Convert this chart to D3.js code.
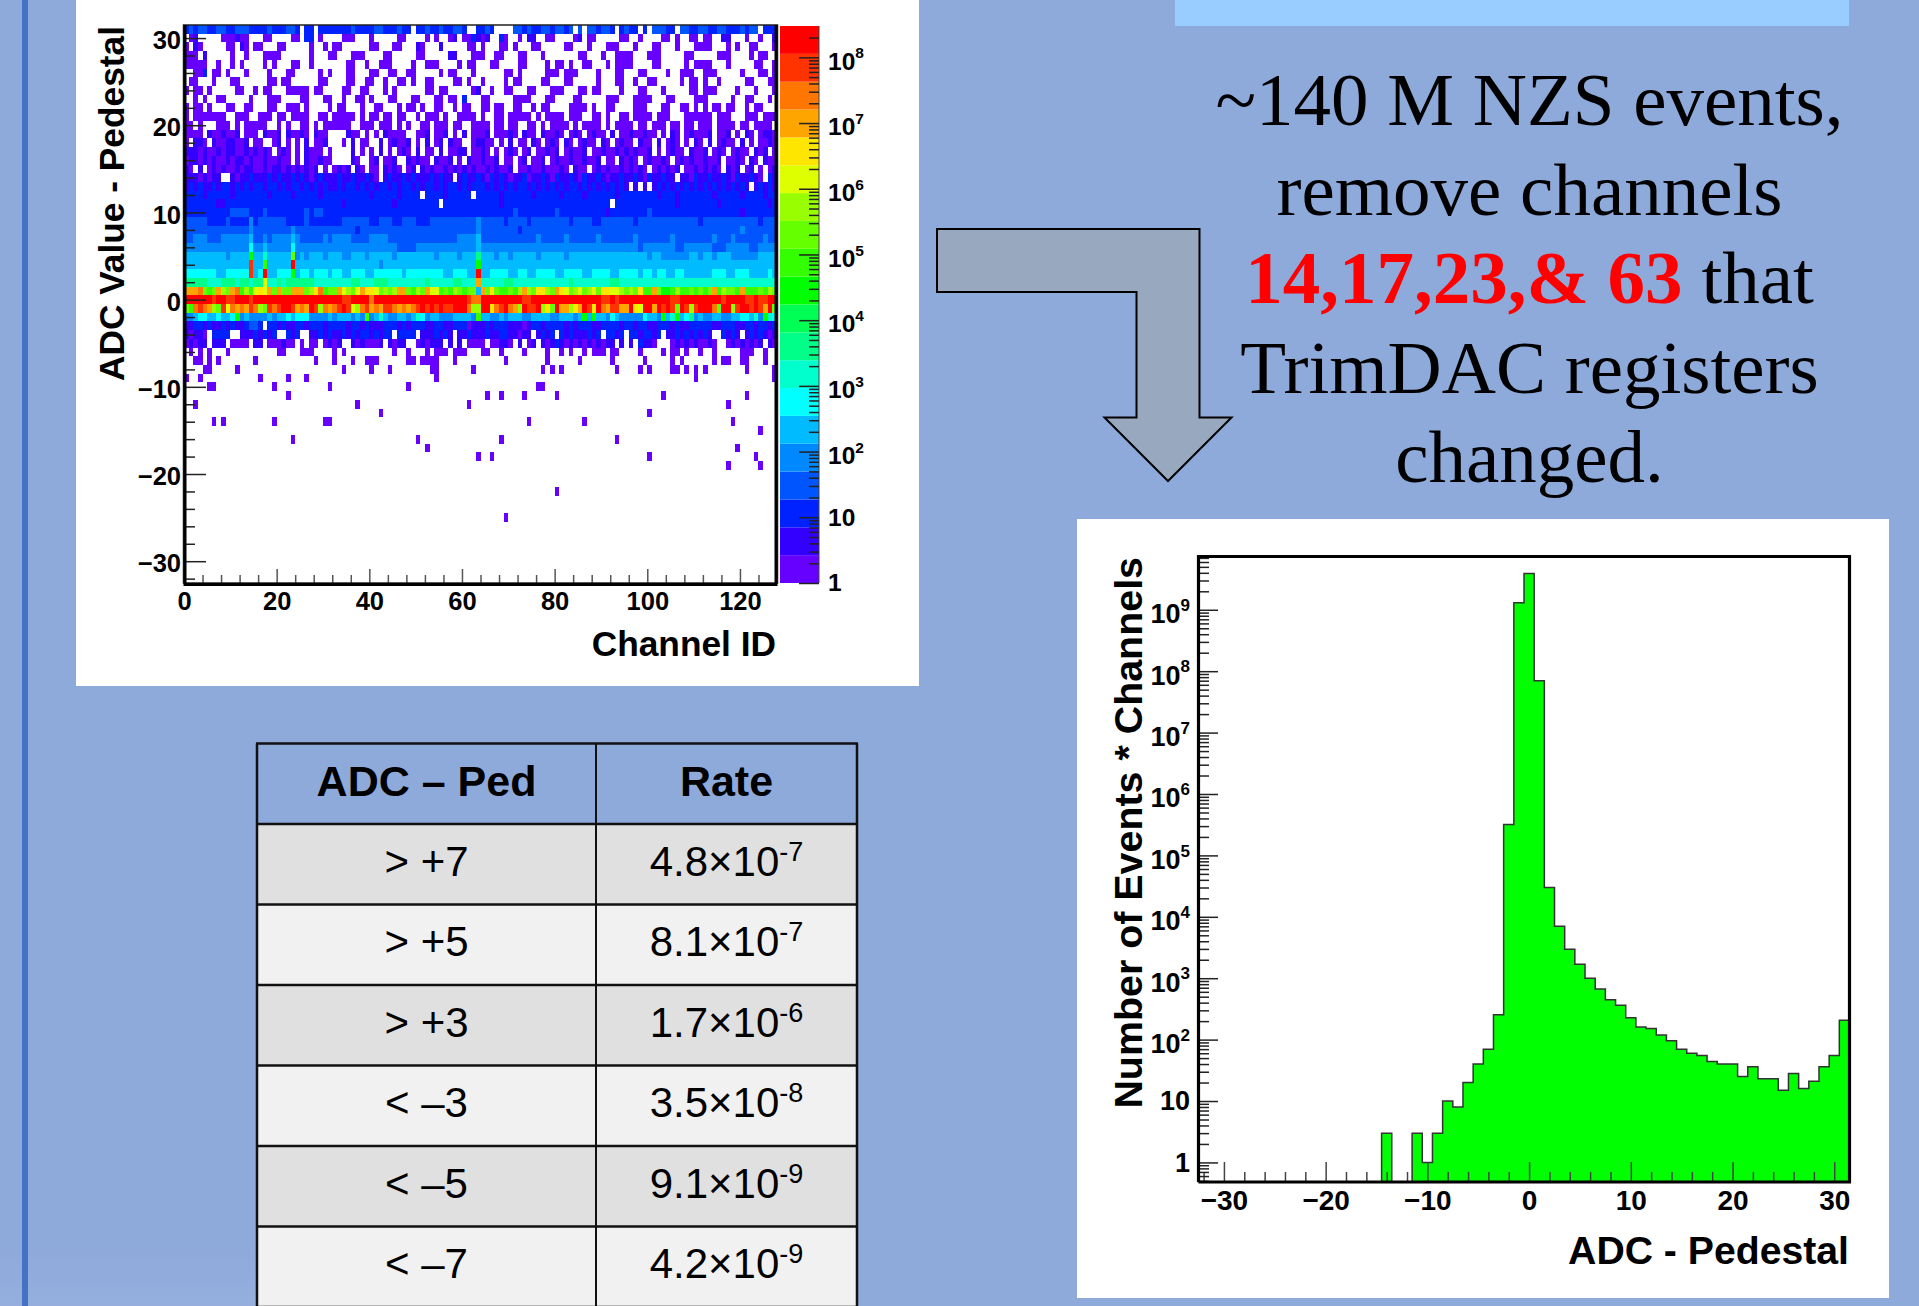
<!DOCTYPE html>
<html>
<head>
<meta charset="utf-8">
<script src="https://cdn.jsdelivr.net/npm/d3@7"></script>
<style>
  html, body { margin: 0; padding: 0; background: #8eaadb; }
  svg { display: block; }
  text { font-family: "Liberation Sans", Arial, sans-serif; }
</style>
</head>
<body>
<div id="chart"></div>
<script>
// Heat map: band index per cell (. = empty, 0-9 a-j = colour band), ADC 31 down to -5, channels 0-127
const heatRows = [
  "2323322332233322 223222332.22.222 2222322223322232 2.22322322332..2 232....332322332 3323.3.332332.23 22.2.33322.33223 322332223233.222",
  ".01.....000100.. .00....00.22.0.. ..000...0.....00 ....0.0..01.0021 01..20..0.11..00 ....01.00.....00 ..0....00.0..00. 00..11...0..0..1",
  "0.10.....00.10.0 0...00.....0..0. 00......00...00. ..10...1.....00. 0...00.0...00... ..00...0...000.. .0...00...0...00 00...0.0..00...0",
  "000.1.....0..0.. .0000......0...0 0...000....00... ..00.....11...00 0..00...00...0.. .....00...0..000 0...000.....00.. ...000....0.00..",
  "00000..0..0.0... .0.0...00..0.... ...00..0..000... .0..000....0.00. ..00....00....0. 00.0..00...0.000 0....00.....0.00 00...0.....00..0",
  "..002.00.0...0.. ..0...00.....0.0 ...00...00..00.. 00.....0.00...0. .....00.0.....00 0.000....0...00. ..00....0..000.. 000.....0...00.0",
  ".00...0...00.... ..00.00......00. ...00..00..0..00 .0..00....00.0.. 0....0.00....00. ..00.....0...00. .0..00.....0.00. 0..0.....00...00",
  "0.00.0.....00..0 .00...00000.00.. ..00..00...0.0.. ....00.00.....01 ..0..00...00...0 00...00.00....0. ..00...0.....00. 000....0...0...0",
  "..0.0..00.....0. ..000....00...00 ..0..00.0...00.. .00...00.00.2... 00.....0000...00 ....00.....000.. .0000...00....00 0.....0..00...0.",
  "0.00.0...00..00. ..00..000.0....0 .00...0..00...0. 00.0..00..0.00.. 00.00..00..0.00. ...0000.0..00... .000...00..00.0. 0.00.00..0.00...",
  "0.0000000..000.. 000.00.0000..00. 00000.0.00.00.00 ..0.000.0..0000. 0..00.00000.0.00 00.000..00.0..00 .0000.000...0000 00.000...000.000",
  "00.0...000.0.000 00..0.0..00.0.00 0000..000.000.0. 0..00.000.00..00 00.00.00..00.0.0 000.0.0000.0.000 0.00.000.00.00.0 00.0000.00.0000.",
  "0000.1001001.000 .1001.10010.100. ...100.0.0.10000 ..001.001.0.1.00 01.00010.100.100 10.010.0100.1.00 100100.0.10.0100 01.001.0.10.0110",
  "0.110.10011001.0 0..01.0.0.1.001. ..0.1.00..1.0100 1.0.1.01.100..01 100.0.1.00.10.01 0.10.0100.10.010 0.100.1.010.0.10 .1.0100.1.0.0010",
  "1110100101100101 010.010.0.1000.0 ....1.0.0.1.0.01 0.1.00.1.0011.00 10.0.010.01.0010 1.01001.00100101 01001.0.0100.100 1.010.0100.101.0",
  "0110101001011010 0100100.0.100100 ....10..01.001.. 10100.1001.0.100 1001.00.01.001.0 1001001001.00.10 10.010010.010100 1001.0010.10.100",
  "10.1.01010010110 0101101010101.0. 0101.10.00.1010. 01.1010010101010 0101001.00100100 010.100.01010010 1010.010101.0010 1010.101.01.0.01",
  "11101011..101121 1121211212101211 1211211210.12112 1211121211.12112 1021210112011210 2112102112101121 1210211211.11021 1211210211210.21",
  "1212112122121212 2122121221212121 1212212121221212 2121221212212122 2121212122121212 1212212121212121 .1.1.12121212121 2121212121.12121",
  "2222122222122222 2212222122222122 2222222212222212 222.2222122222.2 2222122222212222 2122221222222122 2222221222122222 2212222212222122",
  "2222222112222222 2222222222222222 2212222222222122 2222222.22222222 2222122222222222 222222222222.222 2222222222122222 2221222222222212",
  "2222222222333322 2322222222323322 2222222222222222 2222222222222222 2222222322222222 3222222222212222 2222322222222222 2222222212222222",
  "3333322223222242 3333332222322222 2233333322333223 3322233333333334 3333323333233333 3332333322333333 3233333333333332 3333333333332333",
  "3333333333333343 3333333433333333 3333323333333333 3333333333333334 3333333323333333 3333333333333333 3333333333333333 3333333343333333",
  "3344433344444453 3434444543333343 4444333344443333 3333333333344445 3333333333334333 3343333334333333 3433333334333333 3343334333333433",
  "4444444444444464 4544444644444444 4444444444444433 3344444444444445 4444444444444444 4444444444444444 4434444444334444 4433344444334444",
  "55555555545555a5 5755555c45455545 5544555455555455 5555554555545558 5554554555554555 5545555555555555 5555455444444554 5545554444445555",
  "55555555555555i5 5b55555j55555555 5555555555455555 555555555555555a 5555555555555555 5555555555555555 5555555555555555 5555555555555555",
  "666666655666 66i5 6j55666a56656665 6655666556666665 666666665566655j 5566665566556666 5566665566665566 6656656655665555 5566655666555565",
  "8888877788878878 8e77878888887777 7777887778887777 777787777788777g 7777788777777777 7778777777778877 7777777777777777 7777777777777777",
  "ggghcbcgdcghbdbe fegcgccgggcdfhbc cgedcegffecdcdgg cbdcgeebcbdcbcc5 gcfcbbcbdgdcffdc gfecdecdecffeedc dcfbbgcaabdbbcbc bcgbdccbgbbbcbdc",
  "jjjjjjijjiijjjij jjjjjjjjjjjjjjjj jjiijjjjhjjjjjjj jjjjjjjjjjjjjihh jjjjjjjjjiijjjjj jjjjjjjjjjiijijj jjjjjjjjjiijjjjj jjjjijjjjiijiijj",
  "cbhihgdciehghgih dcihijjighgjidhg hijiedhighgiihgh ghijijijiijjjhdd jjfhijhgdjiijdfc jggdfgjifjhgiigg jfejjgjijicjidij jjhcjjdijjijigjc",
  "44566556556a4544 4454556566644445 4555454b45754455 457645544455554b 5544545554455554 455545a5a5546544 4446554a57a56845 4455445566574a76",
  "1122121121211233 2.22121122122212 2221221211122212 1222112211222011 1212221110122122 2212122211222212 2122112221211222 2211222112212212",
  "10110.2222..1112 1212..212..11212 1121212212122.22 22.1112121.11211 12112211011.1212 .212111212.2212. 2212212.11212121 21..2121.1212101",
  "01011.111.0000.1 1.000100.0.00.01 01..1010001.1011 ..010111.1.1.000 0.00110.1.01.101 2101010101011.1. 1.2110...0101010 010..01010101.10"
];
const heatAdc = d3.range(31, -6, -1);

// Sparse rows below that: [ADC, channels hit], all in the lowest colour band
const sparseRows = [
  [-6, [1, 3, 5, 9, 20, 21, 25, 26, 27, 32, 34, 45, 48, 52, 54, 55, 56, 58, 59, 60, 64, 65, 68, 73, 78, 81, 83, 86, 88, 89, 90, 92, 93, 98, 103, 105, 106, 108, 111, 114, 120, 121, 122, 125]],
  [-7, [2, 3, 5, 7, 15, 28, 32, 36, 39, 40, 41, 48, 49, 51, 52, 53, 54, 58, 69, 78, 85, 92, 99, 105, 107, 114, 116, 117, 120, 121, 125]],
  [-8, [4, 5, 11, 34, 40, 44, 53, 54, 62, 77, 79, 81, 93, 98, 100, 105, 106, 108, 110, 112, 121, 127]],
  [-9, [0, 3, 16, 22, 26, 54, 110, 127]],
  [-10, [5, 6, 19, 31, 48, 76, 77]],
  [-11, [22, 65, 68, 73, 80, 103, 121]],
  [-12, [2, 37, 61, 117]],
  [-13, [42, 100]],
  [-14, [6, 8, 19, 30, 31, 74, 86, 118]],
  [-15, [124]],
  [-16, [23, 50, 68, 93]],
  [-17, [52, 119]],
  [-18, [63, 66, 100, 123]],
  [-19, [117, 124]],
  [-22, [80]],
  [-25, [69]]
];

const bandColors = ["#6600ff", "#3300ff", "#0022ff", "#0055ff", "#0088ff", "#00bbff", "#00ffff", "#00ffcc", "#00ff88", "#00ff55",
                    "#00ff00", "#33ff00", "#66ff00", "#99ff00", "#ddff00", "#ffe600", "#ffa500", "#ff7700", "#ff3300", "#ff0000"];
const bandKeys = "0123456789abcdefghij";

// Histogram: counts for bins -32 .. 31
const histBins = d3.range(-32, 32);
const histCounts = [
  0, 0, 0, 0, 0, 0, 0, 0, 0, 0, 0, 0, 0, 0, 0, 0, 0, 0,
  3, 0, 0, 3, 1, 3, 10, 8, 20, 40, 70, 255, 3.2e5, 1.3e9,
  3.9e9, 7e7, 3e4, 7e3, 2950, 1690, 1000, 670, 447, 363, 227, 160, 152, 119, 96, 70,
  60, 55, 44, 40, 40, 25, 36, 23, 23, 15, 28, 16, 21, 36, 55, 206
];

// Table
const tableHeader = ["ADC – Ped", "Rate"];
const tableLabels = ["> +7", "> +5", "> +3", "< –3", "< –5", "< –7"];
const tableMantissas = ["4.8", "8.1", "1.7", "3.5", "9.1", "4.2"];
const tableExponents = ["-7", "-7", "-6", "-8", "-9", "-9"];

// Tick values
const heatXMajor = d3.range(0, 121, 20);
const heatXMinor = d3.range(0, 128, 4).filter(d => d % 20 !== 0);
const heatYMajor = d3.range(-30, 31, 10);
const heatYMinor = d3.range(-32, 32, 2).filter(d => d % 10 !== 0);
const barDecades = [0, 1, 2, 3, 4, 5, 6, 7, 8];
const histDecades = [0, 1, 2, 3, 4, 5, 6, 7, 8, 9];
const histXMajor = d3.range(-30, 31, 10);
const histXMinor = d3.range(-32, 32, 2).filter(d => d % 10 !== 0);
const minorFactors = [2, 3, 4, 5, 6, 7, 8, 9];

const textLines = [
  { y: 125, parts: [["~140 M NZS events,", false]] },
  { y: 215, parts: [["remove channels", false]] },
  { y: 303, parts: [["14,17,23,& 63", true], [" that", false]] },
  { y: 393, parts: [["TrimDAC registers", false]] },
  { y: 482, parts: [["changed.", false]] }
];

const svg = d3.select("#chart").append("svg")
    .attr("width", 1919)
    .attr("height", 1306);

const bg = "#8eaadb";
svg.append("rect").attr("width", 1919).attr("height", 1306).attr("fill", bg);
const defs = svg.append("defs");
const grad = defs.append("linearGradient").attr("id", "fade").attr("x1", 0).attr("x2", 0).attr("y1", 0).attr("y2", 1);
grad.append("stop").attr("offset", "0%").attr("stop-color", bg);
grad.append("stop").attr("offset", "100%").attr("stop-color", "#95aede");
svg.append("rect").attr("x", 0).attr("y", 1250).attr("width", 257).attr("height", 56).attr("fill", "url(#fade)");
svg.append("rect").attr("x", 22).attr("y", 0).attr("width", 6).attr("height", 1306).attr("fill", "#4472c4");

// white panels and the blue box at the top
svg.append("rect").attr("x", 76).attr("y", 0).attr("width", 843).attr("height", 686).attr("fill", "#fff");
svg.append("rect").attr("x", 1077).attr("y", 519).attr("width", 812).attr("height", 779).attr("fill", "#fff");
svg.append("rect").attr("x", 1175).attr("y", 0).attr("width", 674).attr("height", 26).attr("fill", "#99ccff");

// put a superscript on a tick label
function powerLabel(sel, fontSize) {
    sel.each(function (d) {
        const t = d3.select(this);
        t.text(null);
        if (d === 0) { t.text("1").attr("dy", "0.32em"); return; }
        if (d === 1) { t.text("10").attr("dy", "0.32em"); return; }
        t.attr("dy", "0.48em");
        t.append("tspan").text("10");
        t.append("tspan").attr("font-size", fontSize).attr("dy", "-0.72em").text(d);
    });
}

function styleAxis(g, size) {
    g.select(".domain").remove();
    g.selectAll("line").attr("stroke", "#222").attr("stroke-width", 1.5);
    g.selectAll("text").attr("fill", "#000").attr("font-size", size).attr("font-weight", "bold").attr("font-family", "Liberation Sans");
}

//// HEAT MAP
const heatX = d3.scaleLinear().domain([0, 128]).range([184, 777]);
const heatY = d3.scaleLinear().domain([-32.5, 31.5]).range([583, 25]);

const cells = [];
heatRows.forEach((row, r) => {
    const chars = row.replace(/ /g, "");
    for (let c = 0; c < 128; c++) {
        const band = bandKeys.indexOf(chars[c]);
        if (band >= 0) cells.push({ channel: c, adc: heatAdc[r], band: band });
    }
});
sparseRows.forEach(s => s[1].forEach(c => cells.push({ channel: c, adc: s[0], band: 0 })));

svg.append("g").selectAll("rect")
    .data(cells)
    .enter().append("rect")
    .attr("x", d => heatX(d.channel))
    .attr("y", d => heatY(d.adc + 0.5))
    .attr("width", d => heatX(d.channel + 1) - heatX(d.channel))
    .attr("height", d => heatY(d.adc - 0.5) - heatY(d.adc + 0.5))
    .attr("fill", d => bandColors[d.band])
    .attr("shape-rendering", "crispEdges");

svg.append("g").attr("transform", "translate(0,583)")
    .call(d3.axisBottom(heatX).tickValues(heatXMajor).tickSize(-14).tickPadding(9).tickFormat(d => d))
    .call(styleAxis, 25.5)
    .call(g => g.selectAll("line").attr("stroke", "#555"));
svg.append("g").attr("transform", "translate(0,583)")
    .call(d3.axisBottom(heatX).tickValues(heatXMinor).tickSize(-8).tickFormat(""))
    .call(styleAxis, 25.5)
    .call(g => g.selectAll("line").attr("stroke", "#555"));
svg.append("g").attr("transform", "translate(184,0)")
    .call(d3.axisLeft(heatY).tickValues(heatYMajor).tickSize(-22).tickPadding(3).tickFormat(d => d < 0 ? "\u2212" + (-d) : d))
    .call(styleAxis, 25.5)
    .call(g => g.selectAll(".tick text").attr("dy", "0.42em"));
svg.append("g").attr("transform", "translate(184,0)")
    .call(d3.axisLeft(heatY).tickValues(heatYMinor).tickSize(-11).tickFormat(""))
    .call(styleAxis, 25.5);

// frame
svg.append("path")
    .attr("d", "M183.5,25H777.5V583H183.5Z")
    .attr("fill", "none").attr("stroke", "#222").attr("stroke-width", 1.5);
svg.append("path")
    .attr("d", "M185,25V584.5H776V25")
    .attr("fill", "none").attr("stroke", "#000").attr("stroke-width", 3);

svg.append("text")
    .attr("x", 776).attr("y", 656)
    .attr("text-anchor", "end").attr("font-weight", "bold").attr("font-size", 35.3)
    .text("Channel ID");
svg.append("text")
    .attr("transform", "translate(124,26)rotate(-90)")
    .attr("text-anchor", "end").attr("font-weight", "bold").attr("font-size", 35.3)
    .text("ADC Value - Pedestal");

// colour bar
const barMax = 3e8;
const barY = d3.scaleLog().domain([1, barMax]).range([583, 26]);
const bandEdge = i => Math.pow(barMax, i / bandColors.length);
svg.append("g").selectAll("rect")
    .data(bandColors)
    .enter().append("rect")
    .attr("x", 780)
    .attr("width", 39)
    .attr("y", (d, i) => barY(bandEdge(i + 1)))
    .attr("height", (d, i) => barY(bandEdge(i)) - barY(bandEdge(i + 1)))
    .attr("fill", d => d);
svg.append("line").attr("x1", 819).attr("x2", 819).attr("y1", 26).attr("y2", 583).attr("stroke", "#444").attr("stroke-width", 1);

svg.append("g").attr("transform", "translate(819,0)")
    .call(d3.axisRight(d3.scaleLinear().domain(barY.domain().map(v => Math.log10(v))).range(barY.range()))
        .tickValues(barDecades).tickSize(-20).tickPadding(9))
    .call(styleAxis, 24.5)
    .call(g => g.selectAll(".tick text").call(powerLabel, 15.5));
const barMinor = [];
barDecades.forEach(k => minorFactors.forEach(f => { if (f * Math.pow(10, k) < barMax) barMinor.push(f * Math.pow(10, k)); }));
svg.append("g").attr("transform", "translate(819,0)")
    .call(d3.axisRight(barY).tickValues(barMinor).tickSize(-10).tickFormat(""))
    .call(styleAxis, 24.5);

//// HISTOGRAM
const histX = d3.scaleLinear().domain([-32.5, 31.5]).range([1198.5, 1849.5]);
const histYMin = 0.48;
const histY = d3.scaleLog().domain([histYMin, 7.8e9]).range([1182, 555]);

const histPoints = histBins.map((b, i) => ({ edge: b - 0.5, count: histCounts[i] }));
histPoints.push({ edge: 31.5, count: histCounts[histCounts.length - 1] });
const histTop = d => histY(d.count > 0 ? d.count : histYMin);

svg.append("path")
    .datum(histPoints)
    .attr("fill", "#00ff00")
    .attr("d", d3.area().curve(d3.curveStepAfter).x(d => histX(d.edge)).y0(histY(histYMin)).y1(histTop));
svg.append("path")
    .datum(histPoints)
    .attr("fill", "none").attr("stroke", "#333").attr("stroke-width", 1.5)
    .attr("d", d3.line().curve(d3.curveStepAfter).x(d => histX(d.edge)).y(histTop));

svg.append("g").attr("transform", "translate(0,1182)")
    .call(d3.axisBottom(histX).tickValues(histXMajor).tickSize(-20).tickPadding(8).tickFormat(d => d < 0 ? "\u2212" + (-d) : d))
    .call(styleAxis, 28)
    .call(g => g.selectAll("line").attr("stroke", "#444"));
svg.append("g").attr("transform", "translate(0,1182)")
    .call(d3.axisBottom(histX).tickValues(histXMinor).tickSize(-10).tickFormat(""))
    .call(styleAxis, 28)
    .call(g => g.selectAll("line").attr("stroke", "#444"));

svg.append("g").attr("transform", "translate(1197,0)")
    .call(d3.axisLeft(d3.scaleLinear().domain(histY.domain().map(v => Math.log10(v))).range(histY.range()))
        .tickValues(histDecades).tickSize(-21).tickPadding(7))
    .call(styleAxis, 27)
    .call(g => g.selectAll(".tick text").call(powerLabel, 17));
const histMinor = [5e-1, 6e-1, 7e-1, 8e-1, 9e-1];
histDecades.forEach(k => minorFactors.forEach(f => { if (f * Math.pow(10, k) < 7.8e9) histMinor.push(f * Math.pow(10, k)); }));
svg.append("g").attr("transform", "translate(1197,0)")
    .call(d3.axisLeft(histY).tickValues(histMinor).tickSize(-12).tickFormat(""))
    .call(styleAxis, 27);

svg.append("path")
    .attr("d", "M1198.5,1182V556.5H1849.5V1182H1198.5")
    .attr("fill", "none").attr("stroke", "#000").attr("stroke-width", 3.2);

svg.append("text")
    .attr("x", 1849).attr("y", 1264)
    .attr("text-anchor", "end").attr("font-weight", "bold").attr("font-size", 39.2)
    .text("ADC - Pedestal");
svg.append("text")
    .attr("transform", "translate(1141.5,557)rotate(-90)")
    .attr("text-anchor", "end").attr("font-weight", "bold").attr("font-size", 39.4)
    .text("Number of Events * Channels");

//// ARROW
const arrow = [[937, 229], [1199.5, 229], [1199.5, 417.5], [1231.5, 417.5], [1168, 481], [1104.5, 417.5], [1136.5, 417.5], [1136.5, 292], [937, 292]];
svg.append("path")
    .attr("d", d3.line()(arrow) + "Z")
    .attr("fill", "#98a8bf").attr("stroke", "#000").attr("stroke-width", 2);

//// TEXT BLOCK
textLines.forEach(line => {
    const t = svg.append("text")
        .attr("x", 1529.5).attr("y", line.y)
        .attr("text-anchor", "middle")
        .style("font-family", "'Liberation Serif', 'Times New Roman', serif")
        .attr("font-size", 75);
    line.parts.forEach(p => {
        t.append("tspan")
            .attr("fill", p[1] ? "#ff0000" : "#000")
            .attr("font-weight", p[1] ? "bold" : "normal")
            .text(p[0]);
    });
});

//// TABLE
const colX = [257, 596, 857];
const tableY = d3.scaleLinear().domain([0, 7]).range([743.5, 1307]);

const rowsG = svg.append("g");
rowsG.selectAll("rect.row")
    .data(tableLabels)
    .enter().append("rect")
    .attr("class", "row")
    .attr("x", colX[0]).attr("width", colX[2] - colX[0])
    .attr("y", (d, i) => tableY(i + 1))
    .attr("height", tableY(1) - tableY(0))
    .attr("fill", (d, i) => i % 2 === 0 ? "#e0e0e0" : "#f1f1f1");

// borders
d3.range(0, 8).forEach(i => {
    rowsG.append("line").attr("x1", colX[0] - 1).attr("x2", colX[2] + 1)
        .attr("y1", tableY(i)).attr("y2", tableY(i))
        .attr("stroke", "#111").attr("stroke-width", 2.5);
});
colX.forEach(x => {
    rowsG.append("line").attr("x1", x).attr("x2", x).attr("y1", tableY(0)).attr("y2", 1306)
        .attr("stroke", "#111").attr("stroke-width", x === colX[1] ? 2 : 2.5);
});

const colCenter = [(colX[0] + colX[1]) / 2, (colX[1] + colX[2]) / 2];
tableHeader.forEach((h, i) => {
    svg.append("text")
        .attr("x", colCenter[i]).attr("y", 796)
        .attr("text-anchor", "middle").attr("font-weight", "bold").attr("font-size", 43)
        .text(h);
});
tableLabels.forEach((lab, i) => {
    const y = tableY(i + 1) + 51.5;
    svg.append("text")
        .attr("x", colCenter[0]).attr("y", y)
        .attr("text-anchor", "middle").attr("font-size", 42)
        .text(lab);
    const r = svg.append("text")
        .attr("x", colCenter[1]).attr("y", y)
        .attr("text-anchor", "middle").attr("font-size", 42);
    r.append("tspan").text(tableMantissas[i] + "×10");
    r.append("tspan").attr("font-size", 27).attr("dy", -15).text(tableExponents[i]);
});
</script>
</body>
</html>
